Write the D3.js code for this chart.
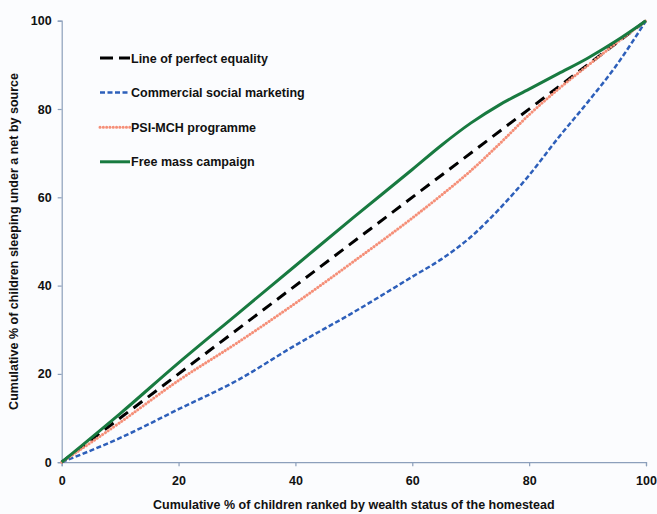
<!DOCTYPE html>
<html><head><meta charset="utf-8">
<script src="https://cdn.jsdelivr.net/npm/d3@7"></script>
<style>
html,body{margin:0;padding:0;background:#fbfcfe;}
svg{display:block;font-family:"Liberation Sans",Arial,sans-serif;font-weight:bold;}
</style></head><body>
<svg id="c" width="657" height="514"></svg>
<script>
const xTicks = [0,20,40,60,80,100];
const yTicks = [0,20,40,60,80,100];
const equalityX = [0,100];
const equalityY = [0,100];
const commercialX = [0,10,20,30,40,50,60,65,70,75,80,85,90,95,100];
const commercialY = [0,5.5,12,18.5,26.5,34,42,46,51,57.5,65,73.5,81.5,90,100];
const psiX = [0,10,20,30,40,50,60,65,70,75,80,85,90,95,100];
const psiY = [0,9,18.5,27,36,45.5,55.3,60.5,66,72.2,78.7,84.5,89.8,95,100];
const freeX = [0,10,20,30,40,50,60,65,70,75,80,85,90,95,100];
const freeY = [0,11,22.5,33.5,44.5,55.5,66.3,71.8,76.8,81,84.5,88,91.5,95.5,100];
const seriesNames = ["Line of perfect equality","Commercial social marketing","PSI-MCH programme","Free mass campaign"];
const xTitle = "Cumulative % of children ranked by wealth status of the homestead";
const yTitle = "Cumulative % of children sleeping under a net by source";

const series = [
  {name:seriesNames[0], xs:equalityX, ys:equalityY, color:"#000000", width:3, dash:"11,7", cap:"butt"},
  {name:seriesNames[1], xs:commercialX, ys:commercialY, color:"#2d5fba", width:2.5, dash:"5,2.5", cap:"butt"},
  {name:seriesNames[2], xs:psiX, ys:psiY, color:"#f58f78", width:3, dash:"0.1,3.2", cap:"round"},
  {name:seriesNames[3], xs:freeX, ys:freeY, color:"#187a40", width:3, dash:null, cap:"butt"}
];

const svg = d3.select("#c");
const x = d3.scaleLinear().domain([0,100]).range([61.7,646]);
const y = d3.scaleLinear().domain([0,100]).range([462.2,20.7]);
const axisColor = "#8c9fbb";

const xa = svg.append("g").attr("transform",`translate(0,${y(0)})`)
  .call(d3.axisBottom(x).tickValues(xTicks).tickSize(4).tickPadding(10));
const ya = svg.append("g").attr("transform",`translate(${x(0)},0)`)
  .call(d3.axisLeft(y).tickValues(yTicks).tickSize(4).tickPadding(6));
[xa,ya].forEach(a=>{
  a.select(".domain").attr("stroke",axisColor).attr("stroke-width",1.2);
  a.selectAll(".tick line").attr("stroke",axisColor).attr("stroke-width",1.2);
  a.selectAll(".tick text").attr("fill","#111").style("font-size","12.5px").style("font-family","Liberation Sans, Arial, sans-serif").style("font-weight","bold");
});

const line = d3.line().curve(d3.curveMonotoneX).x(d=>x(d[0])).y(d=>y(d[1]));
series.forEach(s=>{
  const pts = s.xs.map((v,i)=>[v,s.ys[i]]);
  const p = svg.append("path").datum(pts).attr("d",line)
    .attr("fill","none").attr("stroke",s.color).attr("stroke-width",s.width)
    .attr("stroke-linecap",s.cap);
  if(s.dash) p.attr("stroke-dasharray",s.dash);
});

// legend
const lg = svg.append("g");
series.forEach((s,i)=>{
  const yy = 58 + i*34.6;
  const l = lg.append("line").attr("x1",100).attr("x2",130).attr("y1",yy).attr("y2",yy)
    .attr("stroke",s.color).attr("stroke-width",s.width).attr("stroke-linecap",s.cap);
  if(s.dash) l.attr("stroke-dasharray", i===0 ? "13,6" : s.dash);
  lg.append("text").attr("x",131).attr("y",yy+4.5).text(s.name)
    .attr("fill","#111").style("font-size","12.5px");
});

svg.append("text").attr("x",(x(0)+x(100))/2).attr("y",509).attr("text-anchor","middle")
  .attr("fill","#111").style("font-size","12.5px").text(xTitle);
svg.append("text").attr("transform",`translate(18,${(y(0)+y(100))/2}) rotate(-90)`)
  .attr("text-anchor","middle").attr("fill","#111").style("font-size","12.5px").text(yTitle);
</script>
</body></html>
